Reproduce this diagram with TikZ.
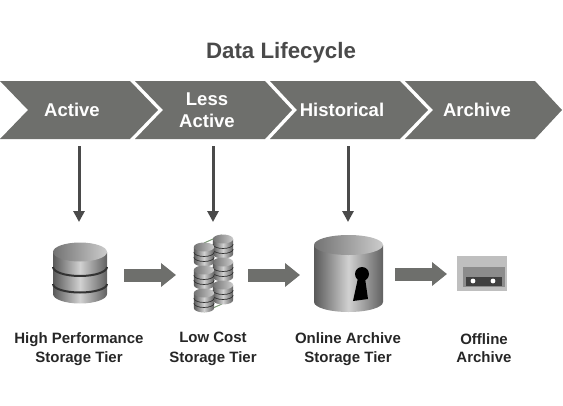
\documentclass[tikz,border=0pt]{standalone}
\usepackage{fontspec}
\setmainfont{Liberation Sans}
\usetikzlibrary{arrows.meta}
\definecolor{bargray}{HTML}{6E6F6C}
\definecolor{linegray}{HTML}{4A4A4A}
\definecolor{wiregreen}{HTML}{7E9A78}
\tikzset{
  chevron/.style={fill=bargray,draw=none},
  phase/.style={text=white,font=\bfseries\fontsize{18.5}{22}\selectfont,align=center,inner sep=0pt},
  tier/.style={text=black!85,font=\bfseries\fontsize{15}{19.5}\selectfont,align=center,inner sep=0pt},
  downarrow/.style={draw=linegray,line width=3pt,-{Triangle[length=11pt,width=11pt]}},
  blockarrow/.style={draw=bargray,line width=13pt,-{Triangle[length=15pt,width=23pt]}},
  body/.style={left color=black!65,right color=black!62,middle color=black!18},
  lid/.style={left color=black!55,right color=black!20}
}
% body and lid of a drum: x, top, bottom, x radius, y radius
\newcommand{\drum}[5]{
  \path[body,shading angle=90] (#1-#4,#2)--(#1-#4,#3) arc[start angle=180,end angle=0,x radius=#4,y radius=#5]--(#1+#4,#2)--cycle;
  \path[lid] (#1,#2) ellipse[x radius=#4,y radius=#5];
}
% dark groove across a drum: x, height, x radius, y radius, width
\newcommand{\groove}[5]{
  \draw[black!80,line width=#5] (#1-#3,#2) arc[start angle=180,end angle=0,x radius=#3,y radius=#4];
}
\begin{document}
\begin{tikzpicture}[x=1pt,y=-1pt]
  \useasboundingbox (0,0) rectangle (563,405);
  \node[text=linegray,font=\bfseries\fontsize{22.3}{26}\selectfont,inner sep=0pt] (title) at (281,53) {Data Lifecycle};
  % phases
  \fill[chevron] (0,81)--(130,81)--(158,110)--(130,139)--(0,139)--(28,110)--cycle;
  \fill[chevron] (135,81)--(265,81)--(292,110)--(265,139)--(135,139)--(163,110)--cycle;
  \fill[chevron] (270,81)--(400,81)--(428,110)--(400,139)--(270,139)--(297,110)--cycle;
  \fill[chevron] (405,81)--(535,81)--(562,110)--(535,139)--(405,139)--(433,110)--cycle;
  \node[phase] (active) at (72,110) {Active};
  \node[phase] (less) at (207,110) {Less\\Active};
  \node[phase] (historical) at (342,110) {Historical};
  \node[phase] (archive) at (477,110) {Archive};
  \coordinate (a1) at (79,146);
  \coordinate (a2) at (79,222);
  \coordinate (b1) at (213,146);
  \coordinate (b2) at (213,222);
  \coordinate (c1) at (348,146);
  \coordinate (c2) at (348,222);
  \draw[downarrow] (a1)--(a2);
  \draw[downarrow] (b1)--(b2);
  \draw[downarrow] (c1)--(c2);
  % high performance drum
  \drum{80}{252}{294}{27}{9.5}
  \groove{80}{267}{27}{9}{2pt}
  \groove{80}{284}{27}{8.5}{2pt}
  % low cost stacks
  \coordinate (w1) at (204,243);
  \coordinate (w2) at (222,235);
  \coordinate (w3) at (204,312);
  \coordinate (w4) at (222,304);
  \draw[wiregreen,line width=1pt] (w1)--(w2) (w3)--(w4);
  \foreach \x/\y in {223/239,223/262,223/285,204/247,204/270,204/293}{
    \drum{\x}{\y}{\y+15}{10.2}{4.5}
    \groove{\x}{\y+5}{10.2}{4.5}{0.7pt}
    \groove{\x}{\y+10}{10.2}{4.5}{0.7pt}
  }
  % online archive drum with keyhole
  \drum{348.5}{245}{302}{34.5}{10}
  \fill[black] (362,274) circle (7);
  \fill[black] (358,278)--(353,301)--(368,299)--(365,278)--cycle;
  % offline archive tape
  \fill[black!25] (457,256) rectangle (507,291);
  \fill[black!45] (463,267) rectangle (505,287);
  \fill[black!75] (466,277) rectangle (502,286);
  \fill[white] (473,281) circle (2.4) (493,281) circle (2.4);
  % moves between tiers
  \coordinate (m1) at (124,275);
  \coordinate (m2) at (176,275);
  \coordinate (n1) at (248,275);
  \coordinate (n2) at (300,275);
  \coordinate (p1) at (395,274);
  \coordinate (p2) at (447,274);
  \draw[blockarrow] (m1)--(m2);
  \draw[blockarrow] (n1)--(n2);
  \draw[blockarrow] (p1)--(p2);
  \node[tier] (high) at (79,349) {High Performance\\Storage Tier};
  \node[tier] (low) at (213,349) {Low Cost\\Storage Tier};
  \node[tier] (online) at (348,349) {Online Archive\\Storage Tier};
  \node[tier,font=\bfseries\fontsize{15}{18}\selectfont] (offline) at (484,348) {Offline\\Archive};
\end{tikzpicture}
\end{document}
